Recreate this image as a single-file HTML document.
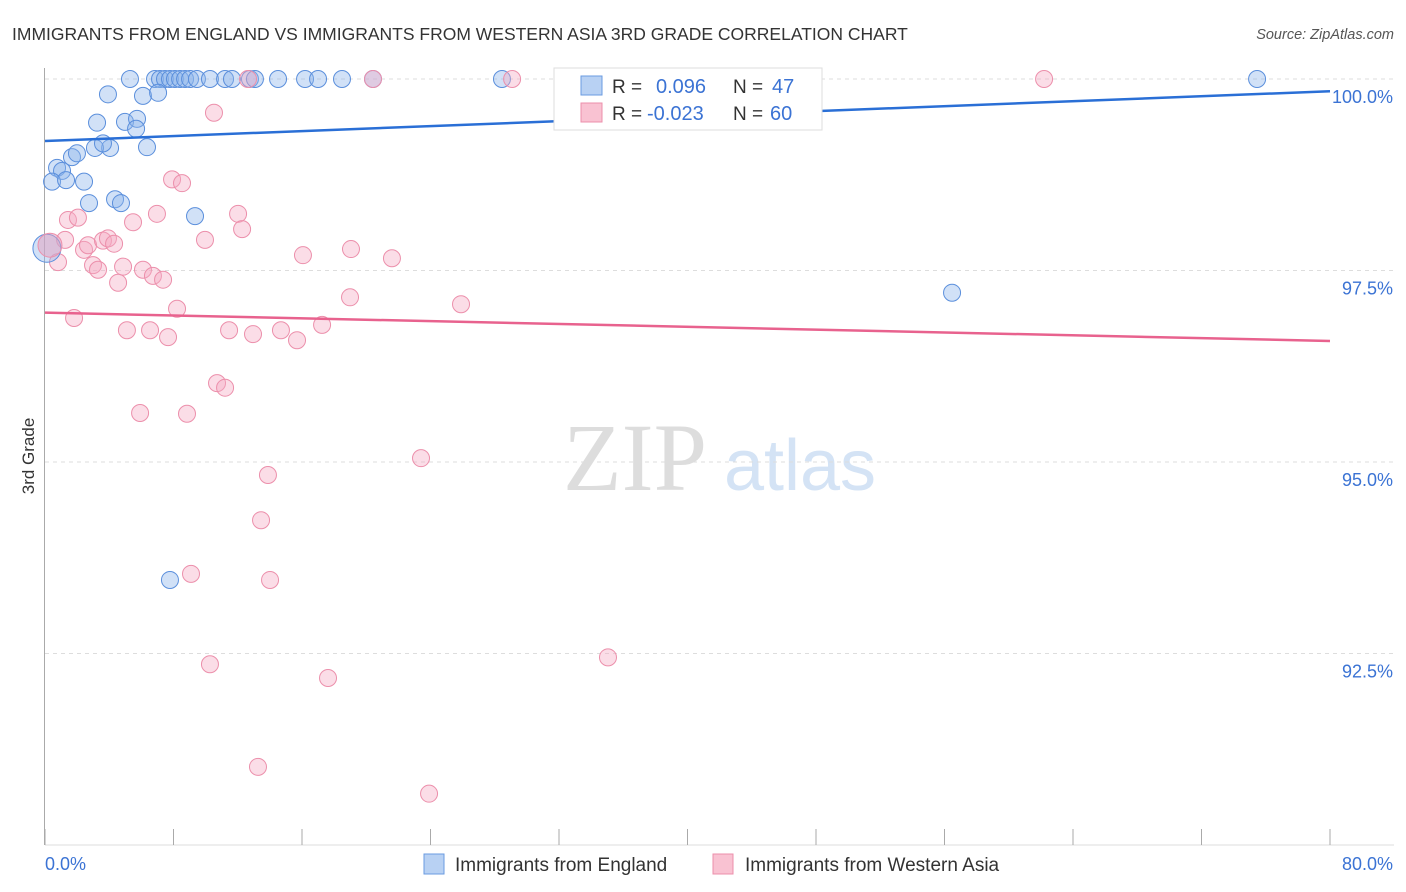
<!DOCTYPE html>
<html><head><meta charset="utf-8"><style>
body{margin:0;background:#fff;font-family:"Liberation Sans",sans-serif}
svg{display:block}
</style></head><body>
<svg id="c" width="1406" height="892">
<text x="12" y="40" font-size="17.5" fill="#333">IMMIGRANTS FROM ENGLAND VS IMMIGRANTS FROM WESTERN ASIA 3RD GRADE CORRELATION CHART</text>
<text x="1394" y="39" font-size="14.5" fill="#555" font-style="italic" text-anchor="end">Source: ZipAtlas.com</text>
<text x="34" y="456" font-size="17" fill="#333" text-anchor="middle" transform="rotate(-90 34 456)">3rd Grade</text>
<g><text x="635" y="490" font-size="96" fill="#ddd" font-family="Liberation Serif" text-anchor="middle">ZIP</text><text x="800" y="490" font-size="72" fill="#d4e3f5" text-anchor="middle">atlas</text></g>
<g id="grid"></g><g id="axes"></g><g id="pts"></g><g id="trend"></g>
<g>
<rect x="554" y="68" width="268" height="62" fill="#fff" stroke="#ddd"/>
<rect x="581" y="76" width="21" height="19" fill="#b8d1f3" stroke="#6a9be0"/>
<rect x="581" y="103" width="21" height="19" fill="#f9c2d2" stroke="#ec8fab"/>
<text x="612" y="93" font-size="19" fill="#333">R = </text><text x="656" y="93" font-size="20" fill="#3b73d4">0.096</text>
<text x="733" y="93" font-size="19" fill="#333">N = </text><text x="772" y="93" font-size="20" fill="#3b73d4">47</text>
<text x="612" y="120" font-size="19" fill="#333">R = </text><text x="647" y="120" font-size="20" fill="#3b73d4">-0.023</text>
<text x="733" y="120" font-size="19" fill="#333">N = </text><text x="770" y="120" font-size="20" fill="#3b73d4">60</text>
</g>
<g>
<rect x="424" y="854" width="20" height="20" fill="#b8d1f3" stroke="#6a9be0"/>
<text x="455" y="871" font-size="19" fill="#333">Immigrants from England</text>
<rect x="713" y="854" width="20" height="20" fill="#f9c2d2" stroke="#ec8fab"/>
<text x="745" y="871" font-size="19" fill="#333">Immigrants from Western Asia</text>
</g>
</svg>
<script>
const yTicks=[100,97.5,95,92.5];
const yTickLabels=["100.0%","97.5%","95.0%","92.5%"];
const xTickLabels=["0.0%","80.0%"];
const englandX=[5.29,6.85,7.16,7.47,7.78,8.09,8.41,8.72,9.03,9.46,10.27,11.21,11.64,12.76,13.07,14.51,16.19,17.0,18.49,20.42,28.45,32.87,75.46,3.92,6.10,7.04,3.24,4.98,5.73,5.67,4.05,6.35,1.68,1.99,3.11,3.61,0.75,1.06,0.44,1.31,2.43,2.74,4.36,4.73,9.34,56.47,7.78];
const englandY=[100,100,100,100,100,100,100,100,100,100,100,100,100,100,100,100,100,100,100,100,100,100,100,99.80,99.78,99.82,99.43,99.44,99.48,99.35,99.10,99.11,98.98,99.03,99.10,99.16,98.84,98.80,98.66,98.68,98.66,98.38,98.43,98.38,98.21,97.21,93.46];
const asiaX=[0.81,1.25,1.43,2.05,1.81,2.43,2.68,2.99,3.30,3.61,3.92,4.30,4.55,4.86,5.10,5.48,5.92,6.10,6.54,6.72,6.97,7.35,7.66,7.91,8.22,8.53,8.84,9.09,9.96,10.27,10.52,10.71,11.21,11.46,12.02,12.27,12.64,12.95,13.26,13.45,13.88,14.01,14.69,15.69,16.06,17.25,17.62,18.99,19.05,20.42,21.60,23.41,23.91,25.90,29.08,35.05,42.34,62.20];
const asiaY=[97.61,97.90,98.16,98.19,96.88,97.77,97.83,97.57,97.51,97.89,97.92,97.85,97.34,97.55,96.72,98.13,95.64,97.51,96.72,97.43,98.24,97.38,96.63,98.69,97.0,98.64,95.63,93.54,97.90,92.36,99.56,96.03,95.97,96.72,98.24,98.04,100,96.67,91.02,94.24,94.83,93.46,96.72,96.59,97.70,96.79,92.18,97.15,97.78,100,97.66,95.05,90.67,97.06,100,92.45,100,100];
const bigX=[0.12,0.31];const bigY=[97.79,97.83];
const trendEngland=[99.19,99.84];const trendAsia=[96.95,96.58];
const X=v=>45+v/80*1285, Y=v=>79+(100-v)/2.5*191.5;
const NS="http://www.w3.org/2000/svg";
function mk(p,t,a){const e=document.createElementNS(NS,t);for(const k in a)e.setAttribute(k,a[k]);p.appendChild(e);return e;}
const g=document.getElementById('grid'),ax=document.getElementById('axes'),pts=document.getElementById('pts'),tr=document.getElementById('trend');
yTicks.forEach((t,i)=>{const l=mk(g,'line',{x1:45,x2:1394,y1:Y(t),y2:Y(t),stroke:'#ddd','stroke-dasharray':'4,4'});


const tx=mk(ax,'text',{x:1393,y:Y(t)+24,'font-size':18,fill:'#3b73d4','text-anchor':'end'});tx.textContent=yTickLabels[i];

});
mk(ax,'line',{x1:44.5,x2:44.5,y1:68,y2:845,stroke:'#aaa'});
mk(ax,'line',{x1:45,x2:1394,y1:845,y2:845,stroke:'#ddd'});
for(let i=0;i<=10;i++){const l=mk(ax,'line',{x1:X(i*8),x2:X(i*8),y1:829,y2:845,stroke:'#aaa'});

}
[[0,45,'start'],[80,1393,'end']].forEach((d,i)=>{const t=mk(ax,'text',{x:d[1],y:870,'font-size':18,fill:'#3b73d4','text-anchor':d[2]});t.textContent=xTickLabels[i];

});
englandX.forEach((x,i)=>{const c=mk(pts,'circle',{cx:X(x),cy:Y(englandY[i]),r:8.5,fill:'rgba(140,180,235,0.4)',stroke:'#5b8fdc','stroke-width':1});

});
asiaX.forEach((x,i)=>{const c=mk(pts,'circle',{cx:X(x),cy:Y(asiaY[i]),r:8.5,fill:'rgba(246,170,195,0.4)',stroke:'#ec8fab','stroke-width':1});

});
const b1=mk(pts,'circle',{cx:X(bigX[0]),cy:Y(bigY[0]),r:14,fill:'rgba(140,180,235,0.4)',stroke:'#5b8fdc'});


const b2=mk(pts,'circle',{cx:X(bigX[1]),cy:Y(bigY[1]),r:12,fill:'rgba(230,160,190,0.5)',stroke:'#ec8fab'});


const t1=mk(tr,'line',{x1:X(0),x2:X(80),y1:Y(trendEngland[0]),y2:Y(trendEngland[1]),stroke:'#2a6fd6','stroke-width':2.5});


const t2=mk(tr,'line',{x1:X(0),x2:X(80),y1:Y(trendAsia[0]),y2:Y(trendAsia[1]),stroke:'#e8628e','stroke-width':2.5});


</script>
</body></html>
